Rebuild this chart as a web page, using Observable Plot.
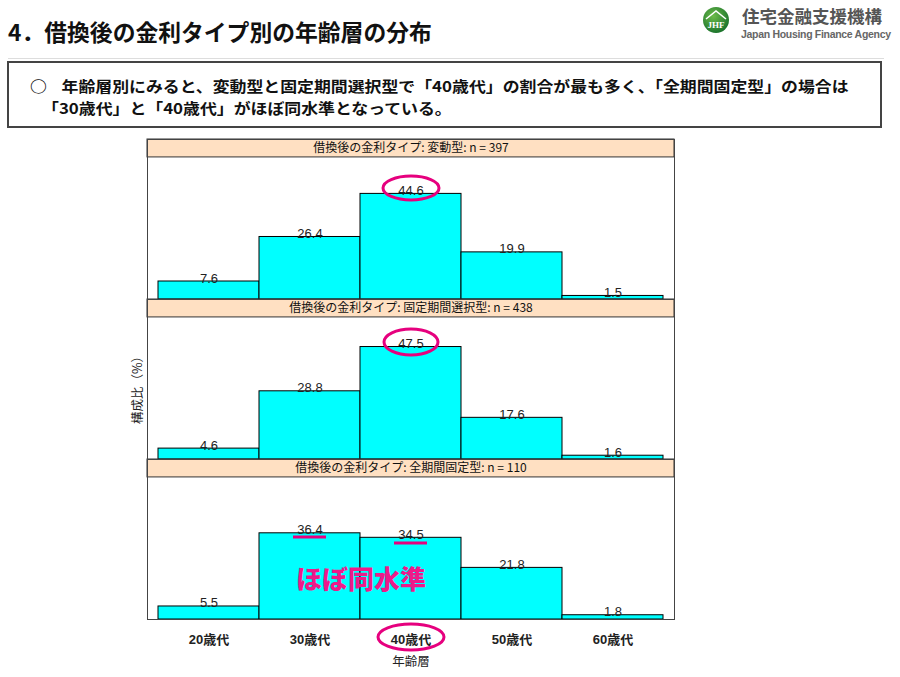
<!DOCTYPE html>
<html><head><meta charset="utf-8">
<script src="https://cdn.jsdelivr.net/npm/d3@7"></script>
<script src="https://cdn.jsdelivr.net/npm/@observablehq/plot@0.6"></script>
<style>
html,body{margin:0;padding:0;background:#fff;}
body{width:900px;height:677px;position:relative;overflow:hidden;font-family:"Liberation Sans","Noto Sans CJK JP",sans-serif;}
.abs{position:absolute;white-space:nowrap;}
#title{left:8px;top:17px;font-size:22.8px;font-weight:bold;color:#111;font-family:"Noto Sans CJK JP",sans-serif;line-height:30px;}
#rule{left:8px;top:58px;width:876px;height:1px;background:#ddd;}
#box{left:7px;top:61px;width:871px;height:63px;border:2px solid #444;}
.bl{font-size:15px;font-weight:bold;color:#111;font-family:"Noto Sans CJK JP",sans-serif;line-height:21px;transform-origin:0 50%;transform:scaleX(1.125);}
#chart{left:0;top:130px;}
#chart [aria-label^="x-axis"]{font-weight:bold;font-size:13px;fill:#222;}
#overlay{position:absolute;left:0;top:0;}
</style></head>
<body>
<div id="title" class="abs">4．借換後の金利タイプ別の年齢層の分布</div>
<div id="rule" class="abs"></div>
<svg class="abs" style="left:690px;top:0" width="210" height="45">
  <defs><radialGradient id="g" cx="40%" cy="35%" r="70%"><stop offset="0" stop-color="#6dbb4a"/><stop offset="1" stop-color="#17702a"/></radialGradient></defs>
  <circle cx="26" cy="20" r="13" fill="url(#g)"/>
  <path d="M16 19 L26 11 L36 19" fill="none" stroke="#fff" stroke-width="1.6"/>
  <text x="26" y="28" text-anchor="middle" font-size="9" font-weight="bold" fill="#fff" font-family="Liberation Serif">JHF</text>
  <text x="52" y="23" font-size="17.5" font-weight="bold" fill="#555" font-family="Noto Sans CJK JP">住宅金融支援機構</text>
  <text x="51" y="38" font-size="10.5" font-weight="bold" fill="#666" font-family="Liberation Sans" textLength="150">Japan Housing Finance Agency</text>
</svg>
<div id="box" class="abs"></div>
<div class="abs bl" style="left:30px;top:75px;">○<span style="margin-left:13px">年齢層別にみると、変動型と固定期間選択型で「40歳代」の割合が最も多く、「全期間固定型」の場合は</span></div>
<div class="abs bl" style="left:42px;top:97px;">「30歳代」と「40歳代」がほぼ同水準となっている。</div>
<div class="abs" style="left:136px;top:387px;transform:translate(-50%,-50%) rotate(-90deg);font-size:12.5px;color:#222;font-family:'Noto Sans CJK JP';">構成比（%）</div>
<div class="abs" style="left:411px;top:660px;transform:translate(-50%,-50%);font-size:12.5px;color:#222;font-family:'Noto Sans CJK JP';">年齢層</div>
<div id="chart" class="abs"></div>
<svg id="overlay" width="900" height="677">
  <g fill="none" stroke="#E6007E" stroke-width="3">
    <ellipse cx="411" cy="188" rx="28" ry="12"/>
    <ellipse cx="411" cy="342" rx="27" ry="13"/>
    <ellipse cx="411" cy="637" rx="33" ry="13"/>
    <line x1="293" y1="537" x2="326" y2="537"/>
    <line x1="394" y1="543" x2="427" y2="543"/>
  </g>
  <text x="361" y="589" text-anchor="middle" font-size="26" font-weight="900" fill="#EE1A8A" font-family="Noto Sans CJK JP">ほぼ同水準</text>
</svg>
<script>
const ages = ["20歳代", "30歳代", "40歳代", "50歳代", "60歳代"];
const rateTypes = ["変動型", "固定期間選択型", "全期間固定型"];
const sampleSizes = [397, 438, 110];
const hendo = [7.6, 26.4, 44.6, 19.9, 1.5];
const koteiKikan = [4.6, 28.8, 47.5, 17.6, 1.6];
const zenkikan = [5.5, 36.4, 34.5, 21.8, 1.8];

const seriesValues = [hendo, koteiKikan, zenkikan];
const data = [];
rateTypes.forEach((t, i) => {
  ages.forEach((a, j) => data.push({type: t, age: a, value: seriesValues[i][j], n: sampleSizes[i]}));
});

const chart = Plot.plot({
  width: 900,
  height: 547,
  marginLeft: 147,
  marginRight: 226,
  marginTop: 8,
  marginBottom: 57,
  style: {fontFamily: "'Liberation Sans','Noto Sans CJK JP',sans-serif", fontSize: "12px", background: "transparent"},
  facet: {data, y: "type"},
  fy: {domain: rateTypes, padding: 0, axis: null, label: null},
  x: {domain: ages, paddingInner: 0, paddingOuter: 0.1, align: 0.5, tickSize: 0, tickPadding: 15, label: null},
  y: {domain: [0, 67.57], axis: null},
  marks: [
    Plot.barY(data, {x: "age", y: "value", fill: "#00FFFF", stroke: "#000", strokeWidth: 1, inset: 0}),
    Plot.text(data, {x: "age", y: "value", text: d => d.value.toFixed(1), lineAnchor: "bottom", dy: 1, fontSize: 13, fill: "#222"}),
    Plot.rect(data, Plot.selectFirst({y1: 60, y2: 67.57, fill: "#FFE0C2", stroke: "#333", strokeWidth: 1})),
    Plot.text(data, Plot.selectFirst({y: 63.8, text: d => `借換後の金利タイプ: ${d.type}: n = ${d.n}`, fontSize: 12, fill: "#111", fontFamily: "'Noto Sans CJK JP',sans-serif"})),
    Plot.frame({stroke: "#444", strokeWidth: 1})
  ]
});
document.getElementById("chart").appendChild(chart);
</script>
</body></html>
